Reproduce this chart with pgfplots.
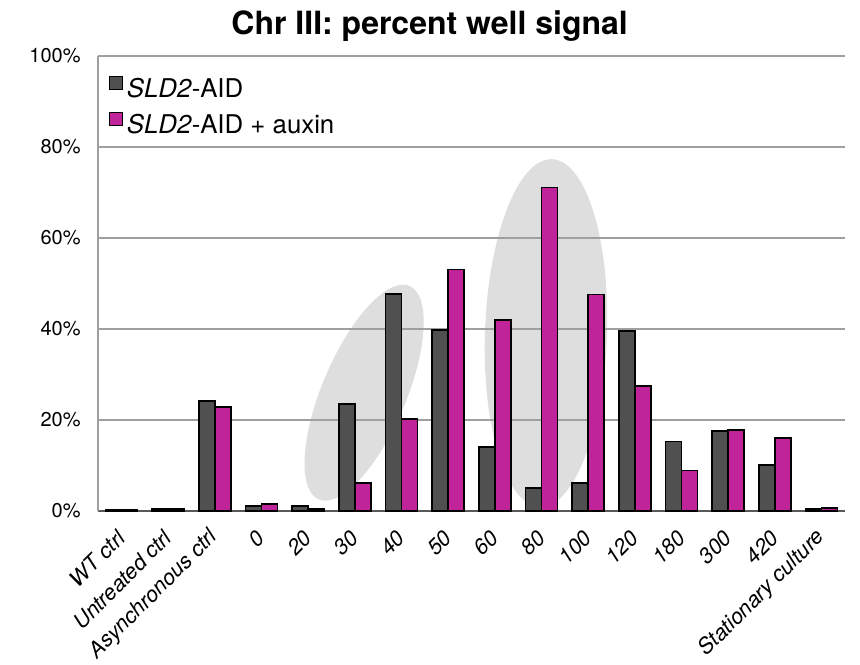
\documentclass[border=0pt]{standalone}
\usepackage{fontspec}
\setmainfont{TeX Gyre Heros}
\usepackage{pgfplots}
\pgfplotsset{compat=1.18}
\definecolor{darkbar}{RGB}{80,80,80}
\definecolor{magbar}{RGB}{192,36,154}
\definecolor{ell}{RGB}{222,222,222}
\begin{document}
\begin{tikzpicture}
\begin{axis}[
  set layers,
  scale only axis,
  width=373.5bp, height=227.5bp,
  ybar=0pt, bar width=8bp,
  every axis plot post/.append style={
    legend image code/.code={
      \path (0bp,-7.4bp);
      \draw[##1, draw=black, line width=0.7bp] (0bp,0bp) rectangle (6.5bp,6.5bp);
    }},
  xmin=-0.5, xmax=15.5,
  ymin=0, ymax=100,
  xtick={0,...,15},
  xticklabels={WT ctrl, Untreated ctrl, Asynchronous ctrl, 0, 20, 30, 40, 50, 60, 80, 100, 120, 180, 300, 420, Stationary culture},
  xticklabel style={yshift=-11.5bp, rotate=45, anchor=east, inner sep=0pt,
    font=\fontsize{10.8bp}{12bp}\selectfont\itshape},
  ytick={0,20,40,60,80,100},
  yticklabel={\pgfmathprintnumber{\tick}\%},
  yticklabel style={xshift=-8.5bp, anchor=east, inner sep=0pt,
    font=\fontsize{10bp}{12bp}\selectfont},
  /pgf/number format/assume math mode=true,
  major tick length=0pt,
  ymajorgrids,
  grid style={draw=gray!75, line width=0.7bp},
  axis x line*=bottom, axis y line*=left,
  x axis line style={draw=black!65, line width=1bp, -},
  y axis line style={draw=gray!75, line width=0.7bp, -},
  every axis title shift=0pt,
  title={Chr III: percent well signal},
  title style={font=\bfseries\fontsize{16bp}{19bp}\selectfont,
    at={(axis description cs:0.444,1)}, anchor=base, yshift=10.5bp},
  legend style={at={(axis description cs:0.0134,0.96)}, anchor=north west,
    draw=none, fill=none, inner sep=0pt, row sep=2.5bp,
    font=\fontsize{12.9bp}{15.5bp}\selectfont,
    /tikz/every even column/.append style={column sep=1bp}},
  legend cell align=left,
]
\begin{pgfonlayer}{axis background}
\fill[ell, rotate around={67:(axis cs:5.2,26.0)}] (axis cs:5.2,26.0) ellipse [x radius=58bp, y radius=21bp];
\fill[ell, rotate around={88:(axis cs:9.095,39.1)}] (axis cs:9.095,39.1) ellipse [x radius=87bp, y radius=30.5bp];
\end{pgfonlayer}
\addplot[fill=darkbar, draw=black, line width=0.8bp] coordinates {
(0,0.3) (1,0.5) (2,24.2) (3,1.1) (4,1.1) (5,23.5) (6,47.7) (7,39.8)
(8,14.0) (9,5.0) (10,6.1) (11,39.5) (12,15.3) (13,17.6) (14,10.1) (15,0.5)};
\addplot[fill=magbar, draw=black, line width=0.8bp] coordinates {
(0,0.3) (1,0.5) (2,22.9) (3,1.5) (4,0.5) (5,6.1) (6,20.2) (7,53.1)
(8,42.0) (9,71.1) (10,47.6) (11,27.5) (12,8.9) (13,17.8) (14,16.0) (15,0.7)};
\legend{\textit{SLD2}-AID, \textit{SLD2}-AID + auxin}
\coordinate (bl) at (rel axis cs:0,0);
\coordinate (tr) at (rel axis cs:1,1);
\end{axis}
\pgfresetboundingbox
\path ([shift={(-49bp,-77bp)}]bl) rectangle ([shift={(7.5bp,28bp)}]tr);
\end{tikzpicture}
\end{document}
